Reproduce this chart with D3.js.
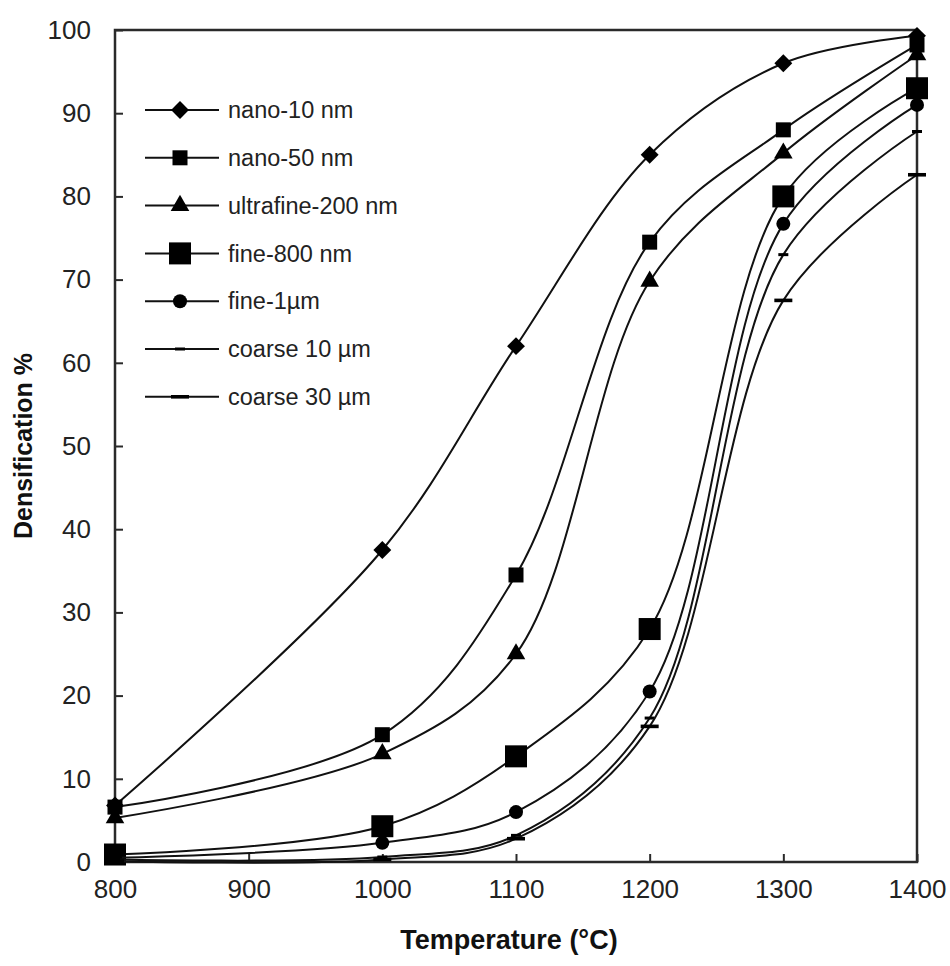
<!DOCTYPE html>
<html>
<head>
<meta charset="utf-8">
<script src="https://cdn.jsdelivr.net/npm/d3@7"></script>
<style>
    body { margin: 0; background: #fff; }
    svg { display: block; font-family: "Liberation Sans", Arial, Helvetica, sans-serif; }
</style>
</head>
<body>
<div id="container"></div>
<script>
// temperatures (°C) and densification (%)
var temps = [800, 1000, 1100, 1200, 1300, 1400];

var nano10    = [6.8, 37.5, 62.0, 85.0, 96.0, 99.3];
var nano50    = [6.6, 15.3, 34.5, 74.5, 88.0, 98.2];
var ultra200  = [5.3, 13.0, 25.0, 69.8, 85.2, 97.0];
var fine800   = [0.9, 4.3, 12.7, 28.0, 80.0, 93.0];
var fine1um   = [0.5, 2.3, 6.0, 20.5, 76.7, 91.0];
var coarse10  = [0.3, 0.6, 3.2, 17.3, 73.0, 87.8];
var coarse30  = [0.1, 0.3, 2.8, 16.3, 67.5, 82.6];

var seriesNames = ["nano-10 nm", "nano-50 nm", "ultrafine-200 nm", "fine-800 nm",
    "fine-1\u00b5m", "coarse 10 \u00b5m", "coarse 30 \u00b5m"];
var seriesValues = [nano10, nano50, ultra200, fine800, fine1um, coarse10, coarse30];
var seriesMarkers = ["diamond", "square", "triangle", "bigsquare", "circle", "dash", "longdash"];

var xTicks = [800, 900, 1000, 1100, 1200, 1300, 1400];
var yTicks = [0, 10, 20, 30, 40, 50, 60, 70, 80, 90, 100];

var W = 950, H = 966;
var margin = { top: 30, right: 33, bottom: 104, left: 115 };
var width = W - margin.left - margin.right,
    height = H - margin.top - margin.bottom;

var svg = d3.select("#container").append("svg")
    .attr("width", W)
    .attr("height", H);

var g = svg.append("g")
    .attr("transform", "translate(" + margin.left + "," + margin.top + ")");

var x = d3.scaleLinear().domain([800, 1400]).range([0, width]);
var y = d3.scaleLinear().domain([0, 100]).range([height, 0]);

// frame
g.append("rect")
    .attr("x", 0).attr("y", 0)
    .attr("width", width).attr("height", height)
    .attr("fill", "none")
    .attr("stroke", "#2a2a2a")
    .attr("stroke-width", 2.5);

// axes, ticks pointing inward
var yAxis = g.append("g")
    .call(d3.axisLeft(y).tickValues(yTicks).tickSizeInner(-8).tickSizeOuter(0).tickPadding(24));
var xAxis = g.append("g")
    .attr("transform", "translate(0," + height + ")")
    .call(d3.axisBottom(x).tickValues(xTicks).tickFormat(d3.format("d"))
        .tickSizeInner(-8).tickSizeOuter(0).tickPadding(18));

[xAxis, yAxis].forEach(function (a)
{
    a.select(".domain").remove();
    a.selectAll(".tick line").attr("stroke", "#2a2a2a").attr("stroke-width", 2);
    a.selectAll(".tick text")
        .attr("fill", "#222")
        .style("font-size", "26px");
});

// axis titles
svg.append("text")
    .attr("x", 509).attr("y", 949)
    .attr("text-anchor", "middle")
    .style("font-size", "27px")
    .style("font-weight", "bold")
    .attr("fill", "#111")
    .text("Temperature (\u00b0C)");

svg.append("text")
    .attr("transform", "translate(32,446) rotate(-90)")
    .attr("text-anchor", "middle")
    .style("font-size", "25px")
    .style("font-weight", "bold")
    .attr("fill", "#111")
    .text("Densification %");

// marker drawing
function drawMarker(sel, kind)
{
    switch (kind)
    {
        case "diamond":
            sel.append("path").attr("d", d3.symbol(d3.symbolSquare, 160)()).attr("transform", "rotate(45)");
            break;
        case "square":
            sel.append("rect").attr("x", -7.5).attr("y", -7.5).attr("width", 15).attr("height", 15);
            break;
        case "triangle":
            sel.append("path").attr("d", d3.symbol(d3.symbolTriangle, 150)());
            break;
        case "bigsquare":
            sel.append("rect").attr("x", -11).attr("y", -11).attr("width", 22).attr("height", 22);
            break;
        case "circle":
            sel.append("circle").attr("r", 7);
            break;
        case "dash":
            sel.append("rect").attr("x", -5).attr("y", -1.5).attr("width", 10).attr("height", 3);
            break;
        case "longdash":
            sel.append("rect").attr("x", -9).attr("y", -1.8).attr("width", 18).attr("height", 3.6);
            break;
    }
}

var line = d3.line()
    .x(function (d) { return x(d[0]); })
    .y(function (d) { return y(d[1]); })
    .curve(d3.curveCatmullRom.alpha(0.5));

var plot = g.append("g");

seriesValues.forEach(function (vals, i)
{
    var pts = temps.map(function (t, j) { return [t, vals[j]]; });

    plot.append("path")
        .datum(pts)
        .attr("d", line)
        .attr("fill", "none")
        .attr("stroke", "#111")
        .attr("stroke-width", 2);

    plot.selectAll(null)
        .data(pts)
        .enter()
        .append("g")
        .attr("transform", function (d) { return "translate(" + x(d[0]) + "," + y(d[1]) + ")"; })
        .attr("fill", "#000")
        .each(function () { drawMarker(d3.select(this), seriesMarkers[i]); });
});

// legend
var legend = svg.append("g").attr("transform", "translate(145,110)");
var rowGap = 47.8;

seriesNames.forEach(function (name, i)
{
    var row = legend.append("g").attr("transform", "translate(0," + (i * rowGap) + ")");
    row.append("line")
        .attr("x1", 0).attr("x2", 74)
        .attr("y1", 0).attr("y2", 0)
        .attr("stroke", "#111")
        .attr("stroke-width", 2);
    var m = row.append("g").attr("transform", "translate(35,0)").attr("fill", "#000");
    drawMarker(m, seriesMarkers[i]);
    row.append("text")
        .attr("x", 83)
        .attr("y", 0)
        .attr("dy", "0.35em")
        .style("font-size", "23.5px")
        .attr("fill", "#222")
        .text(name);
});
</script>
</body>
</html>
